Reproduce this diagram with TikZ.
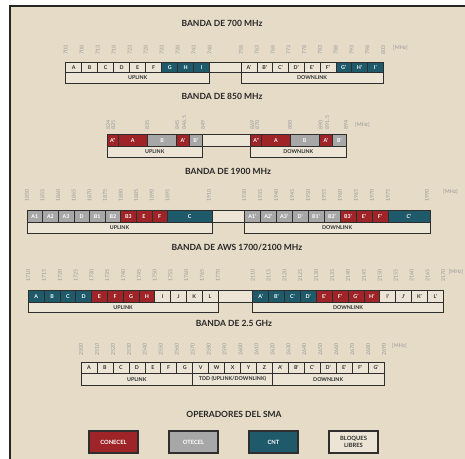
\documentclass[tikz,border=0pt]{standalone}
\usepackage{fontspec}
\setmainfont{Lato}
\definecolor{bg}{HTML}{E5DBC7}
\definecolor{cR}{HTML}{9E2428}
\definecolor{cG}{HTML}{A7A7A7}
\definecolor{cT}{HTML}{1F5A6B}
\definecolor{cF}{HTML}{ECE5D6}
\definecolor{ln}{HTML}{2E2E2E}
\definecolor{numc}{HTML}{9A9A9A}
\tikzset{
 blk/.style={draw=ln, line width=0.6pt},
 lbl/.style={font=\fontsize{5.3}{5.3}\selectfont\bfseries, inner sep=0},
 ttl/.style={font=\fontsize{8.5}{9}\selectfont\bfseries, text=black!85},
 numl/.style={font=\fontsize{5.3}{5.3}\selectfont, text=numc, rotate=90, anchor=west, inner sep=0},
 mhz/.style={font=\fontsize{5.3}{5.3}\selectfont, text=numc, anchor=west, inner sep=0},
 leg/.style={draw=ln, line width=1.2pt, minimum width=49pt, minimum height=22pt, inner sep=0,
   font=\fontsize{5.8}{6.5}\selectfont\bfseries, align=center},
}
% #1 prefix, #2 x0, #3 width, #4 ytop, #5 ybot, #6 list label/fill/text
\newcommand\regrow[6]{%
 \foreach \t/\f/\tc [count=\i from 0] in {#6}{
   \pgfmathsetmacro\xa{#2+\i*#3}
   \pgfmathsetmacro\xb{#2+(\i+1)*#3}
   \draw[blk, fill=\f] (\xa,#4) rectangle (\xb,#5) node[midway, lbl, text=\tc, name=#1\i] {\t};
 }}
% #1 prefix, #2 ytop, #3 ybot, #4 list x1/x2/label/fill/text
\newcommand\varrow[4]{%
 \foreach \xa/\xb/\t/\f/\tc [count=\i from 0] in {#4}{
   \draw[blk, fill=\f] (\xa,#2) rectangle (\xb,#3) node[midway, lbl, text=\tc, name=#1\i] {\t};
 }}
% #1 prefix, #2 x0, #3 step, #4 ybottom, #5 list of values
\newcommand\regnums[5]{%
 \foreach \v [count=\i from 0] in {#5}{
   \node[numl] (#1\i) at ({#2+\i*#3}, #4) {\v};
 }}
\newcommand\varnums[3]{%
 \foreach \x/\v [count=\i from 0] in {#3}{
   \node[numl] (#1\i) at (\x, #2) {\v};
 }}
\begin{document}
\begin{tikzpicture}[x=1pt,y=-1pt]
\useasboundingbox (0,0) rectangle (465,458);
\fill[white] (0,0) rectangle (465,458);
\fill[bg] (10,6) rectangle (472,466);
\draw[line width=2pt, black!85] (472,6) -- (10,6) -- (10,466);

% ---------------- 700 MHz
\node[ttl] (t700) at (222,23) {BANDA DE 700 MHz};
\regnums{n7u}{65.7}{16}{55}{703,708,713,718,723,728,733,738,743,748}
\regnums{n7d}{241}{15.8}{55}{758,763,768,773,778,783,788,793,798,803}
\node[mhz] (m700) at (393,48) {[MHz]};
\draw[blk, fill=cF] (209.7,62) rectangle (241,72.5);
\regrow{b7u}{65.7}{16}{62}{72.5}{A/cF/ln,B/cF/ln,C/cF/ln,D/cF/ln,E/cF/ln,F/cF/ln,G/cT/white,H/cT/white,I/cT/white}
\regrow{b7d}{241}{15.8}{62}{72.5}{A'/cF/ln,B'/cF/ln,C'/cF/ln,D'/cF/ln,E'/cF/ln,F'/cF/ln,G'/cT/white,H'/cT/white,I'/cT/white}
\draw[blk, fill=cF] (65.7,72.5) rectangle (209.7,83.5) node[midway, lbl, text=ln, name=u700] {UPLINK};
\draw[blk, fill=cF] (241,72.5) rectangle (383.2,83.5) node[midway, lbl, text=ln, name=d700] {DOWNLINK};

% ---------------- 850 MHz
\node[ttl] (t850) at (222,96) {BANDA DE 850 MHz};
\varnums{n8}{129.5}{108.3/824,113.3/825,147.3/835,177.3/845,184.3/846.5,203/849,252.3/869,257.3/870,290/880,320.7/890,327.3/891.5,346/894}
\node[mhz] (m850) at (355,125) {[MHz]};
\draw[blk, fill=cF] (202.3,134.3) rectangle (250.7,146);
\varrow{b8u}{134.3}{146}{107.3/118.3/A''/cR/white,118.3/147.3/A/cR/white,147.3/176.7/B/cG/white,176.7/189.3/A'/cR/white,189.3/202.3/B'/cG/white}
\varrow{b8d}{134.3}{146}{250.7/261.7/A''/cR/white,261.7/290/A/cR/white,290/319.3/B/cG/white,319.3/332.7/A'/cR/white,332.7/346/B'/cG/white}
\draw[blk, fill=cF] (107.3,146) rectangle (202.3,157.3) node[midway, lbl, text=ln, name=u850] {UPLINK};
\draw[blk, fill=cF] (250.7,146) rectangle (346,157.3) node[midway, lbl, text=ln, name=d850] {DOWNLINK};

% ---------------- 1900 MHz
\node[ttl] (t1900) at (228,171) {BANDA DE 1900 MHz};
\regnums{n19u}{27}{15.6}{201.7}{1850,1855,1860,1865,1870,1875,1880,1885,1890,1895}
\node[numl] (n19ue) at (209,201.7) {1910};
\regnums{n19d}{244.3}{15.95}{201.7}{1930,1935,1940,1945,1950,1955,1960,1965,1970,1975}
\node[numl] (n19de) at (427,201.7) {1990};
\node[mhz] (m1900) at (443,191.7) {[MHz]};
\draw[blk, fill=cF] (212,210.7) rectangle (244.3,222.3);
\regrow{b19u}{27}{15.6}{210.7}{222.3}{A1/cG/white,A2/cG/white,A3/cG/white,D/cG/white,B1/cG/white,B2/cG/white,B3/cR/white,E/cR/white,F/cR/white}
\draw[blk, fill=cT] (167.4,210.7) rectangle (212,222.3) node[midway, lbl, text=white, name=b19uc] {C};
\regrow{b19d}{244.3}{15.95}{210.7}{222.3}{A1'/cG/white,A2'/cG/white,A3'/cG/white,D'/cG/white,B1'/cG/white,B2'/cG/white,B3'/cR/white,E'/cR/white,F'/cR/white}
\draw[blk, fill=cT] (387.85,210.7) rectangle (430,222.3) node[midway, lbl, text=white, name=b19dc] {C'};
\draw[blk, fill=cF] (27,222.3) rectangle (212,233.3) node[midway, lbl, text=ln, name=u1900] {UPLINK};
\draw[blk, fill=cF] (244.3,222.3) rectangle (430,233.3) node[midway, lbl, text=ln, name=d1900] {DOWNLINK};

% ---------------- AWS
\node[ttl] (taws) at (237,248) {BANDA DE AWS 1700/2100 MHz};
\regnums{nau}{28.3}{15.8}{281.7}{1710,1715,1720,1725,1730,1735,1740,1745,1750,1755,1760,1765,1770}
\regnums{nad}{252.7}{15.88}{281.7}{2110,2115,2120,2125,2130,2135,2140,2145,2150,2155,2160,2165,2170}
\node[mhz] (maws) at (448.5,271.7) {[MHz]};
\draw[blk, fill=cF] (217.9,290.7) rectangle (252.7,302.3);
\regrow{bau}{28.3}{15.8}{290.7}{302.3}{A/cT/white,B/cT/white,C/cT/white,D/cT/white,E/cR/white,F/cR/white,G/cR/white,H/cR/white,I/cF/ln,J/cF/ln,K/cF/ln,L/cF/ln}
\regrow{bad}{252.7}{15.88}{290.7}{302.3}{A'/cT/white,B'/cT/white,C'/cT/white,D'/cT/white,E'/cR/white,F'/cR/white,G'/cR/white,H'/cR/white,I'/cF/ln,J'/cF/ln,K'/cF/ln,L'/cF/ln}
\draw[blk, fill=cF] (28.3,302.3) rectangle (217.9,312.5) node[midway, lbl, text=ln, name=uaws] {UPLINK};
\draw[blk, fill=cF] (252.7,302.3) rectangle (443.3,312.5) node[midway, lbl, text=ln, name=daws] {DOWNLINK};

% ---------------- 2.5 GHz
\node[ttl] (t25) at (234,323) {BANDA DE 2.5 GHz};
\regnums{n25}{81}{15.95}{356}{2500,2510,2520,2530,2540,2550,2560,2570,2580,2590,2600,2610,2620,2630,2640,2650,2660,2670,2680,2690}
\node[mhz] (m25) at (392,346) {[MHz]};
\regrow{b25}{81}{15.95}{362.3}{373.3}{A/cF/ln,B/cF/ln,C/cF/ln,D/cF/ln,E/cF/ln,F/cF/ln,G/cF/ln,V/cF/ln,W/cF/ln,X/cF/ln,Y/cF/ln,Z/cF/ln,A'/cF/ln,B'/cF/ln,C'/cF/ln,D'/cF/ln,E'/cF/ln,F'/cF/ln,G'/cF/ln}
\draw[blk, fill=cF] (81,373.3) rectangle (192.65,385) node[midway, lbl, text=ln, name=u25] {UPLINK};
\draw[blk, fill=cF] (192.65,373.3) rectangle (272.4,385) node[midway, lbl, text=ln, name=tdd25] {TDD (UPLINK/DOWNLINK)};
\draw[blk, fill=cF] (272.4,373.3) rectangle (384,385) node[midway, lbl, text=ln, name=d25] {DOWNLINK};

% ---------------- Legend
\node[ttl] (tops) at (234,414) {OPERADORES DEL SMA};
\node[leg, fill=cR, text=white] (lc) at (113.5,442) {CONECEL};
\node[leg, fill=cG, text=white] (lo) at (193.5,442) {OTECEL};
\node[leg, fill=cT, text=white] (ln) at (273.5,442) {CNT};
\node[leg, fill=cF, text=ln] (ll) at (353.5,442) {BLOQUES\\LIBRES};
\end{tikzpicture}
\end{document}
